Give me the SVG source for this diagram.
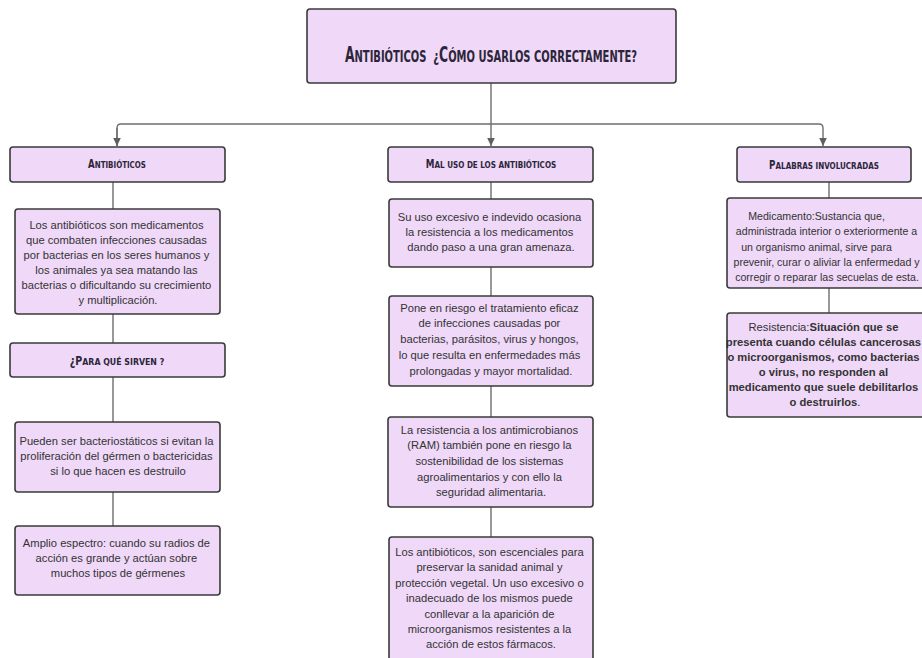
<svg xmlns="http://www.w3.org/2000/svg" width="922" height="658" viewBox="0 0 922 658">
  <style>
    .box { fill: #efd8f8; stroke: #3a3a3a; stroke-width: 1.6; }
    .head { font-family: "DejaVu Sans Condensed", "DejaVu Sans", "Liberation Sans", sans-serif; font-stretch: condensed; font-weight: bold; fill: #2c2638; text-anchor: middle; }
    .body { font-family: "Liberation Sans", Arial, sans-serif; font-size: 11.2px; fill: #333333; text-anchor: middle; }
    .small { font-size: 10.6px; }
    .b { font-weight: bold; }
    .link { fill: none; stroke: #6e6e6e; stroke-width: 1.4; }
  </style>
  <defs>
    <marker id="arrow" viewBox="0 0 8 10" refX="8" refY="5" markerWidth="8" markerHeight="10" markerUnits="userSpaceOnUse" orient="auto">
      <path d="M0,1.2 L8,5 L0,8.8 Z" fill="#5f5f5f"/>
    </marker>
  </defs>

  <rect width="922" height="658" fill="#ffffff"/>

  <!-- connectors -->
  <g id="connectors">
    <path class="link" d="M491,83 V146" marker-end="url(#arrow)"/>
    <path class="link" d="M117,146 V128 Q117,124 121,124 H819 Q823,124 823,128 V146" marker-end="url(#arrow)"/>
    <path class="link" d="M117,128 V146" marker-end="url(#arrow)"/>
    <!-- left column -->
    <path class="link" d="M113,182 V209 M113,314 V343 M113,377 V422 M113,492 V526"/>
    <!-- middle column -->
    <path class="link" d="M491,182 V199 M491,267 V296 M491,386 V417 M491,507 V537"/>
    <!-- right column -->
    <path class="link" d="M829,182 V198 M829,288 V313"/>
  </g>

  <!-- title -->
  <g id="title">
    <rect class="box" x="307" y="9" width="369" height="74" rx="3"/>
    <text class="head" transform="translate(491,62) scale(0.67,1)"><tspan font-size="20.5">A</tspan><tspan font-size="16.5">NTIBIÓTICOS&#160; ¿</tspan><tspan font-size="20.5">C</tspan><tspan font-size="16.5">ÓMO USARLOS CORRECTAMENTE?</tspan></text>
  </g>

  <!-- left column -->
  <g id="antibioticos">
    <rect class="box" x="10" y="147" width="215" height="35" rx="3"/>
    <text class="head" transform="translate(117,168) scale(0.83,1)"><tspan font-size="11.5">A</tspan><tspan font-size="9.5">NTIBIÓTICOS</tspan></text>
  </g>
  <g id="definicion">
    <rect class="box" x="15" y="209" width="205" height="105" rx="3"/>
    <text class="body">
      <tspan x="118" y="229">Los antibióticos son medicamentos</tspan>
      <tspan x="118" y="244">que combaten infecciones causadas</tspan>
      <tspan x="118" y="259">por bacterias en los seres humanos y</tspan>
      <tspan x="118" y="274">los animales ya sea matando las</tspan>
      <tspan x="118" y="289">bacterias o dificultando su crecimiento</tspan>
      <tspan x="118" y="304">y multiplicación.</tspan>
    </text>
  </g>
  <g id="para-que-sirven">
    <rect class="box" x="10" y="343" width="215" height="34" rx="3"/>
    <text class="head" transform="translate(117,365) scale(0.92,1)"><tspan font-size="11.5">¿P</tspan><tspan font-size="9.5">ARA QUÉ SIRVEN ?</tspan></text>
  </g>
  <g id="bacteriostaticos">
    <rect class="box" x="15" y="422" width="205" height="70" rx="3"/>
    <text class="body">
      <tspan x="118" y="445">Pueden ser bacteriostáticos si evitan la</tspan>
      <tspan x="118" y="460">proliferación del gérmen o bactericidas</tspan>
      <tspan x="118" y="475">si lo que hacen es destruilo</tspan>
    </text>
  </g>
  <g id="amplio-espectro">
    <rect class="box" x="15" y="526" width="205" height="69" rx="3"/>
    <text class="body">
      <tspan x="118" y="547">Amplio espectro: cuando su radios de</tspan>
      <tspan x="118" y="562">acción es grande y actúan sobre</tspan>
      <tspan x="118" y="577">muchos tipos de gérmenes</tspan>
    </text>
  </g>

  <!-- middle column -->
  <g id="mal-uso">
    <rect class="box" x="388" y="147" width="205" height="35" rx="3"/>
    <text class="head" transform="translate(491,168) scale(0.846,1)"><tspan font-size="11.5">M</tspan><tspan font-size="9.5">AL USO DE LOS ANTIBIÓTICOS</tspan></text>
  </g>
  <g id="uso-excesivo">
    <rect class="box" x="389" y="199" width="204" height="68" rx="3"/>
    <text class="body">
      <tspan x="491" y="221">Su uso excesivo e indevido ocasiona</tspan>
      <tspan x="491" y="236">la resistencia a los medicamentos</tspan>
      <tspan x="491" y="251">dando paso a una gran amenaza.</tspan>
    </text>
  </g>
  <g id="riesgo-tratamiento">
    <rect class="box" x="389" y="296" width="204" height="90" rx="3"/>
    <text class="body">
      <tspan x="491" y="311.5">Pone en riesgo el tratamiento eficaz</tspan>
      <tspan x="491" y="327">de infecciones causadas por</tspan>
      <tspan x="491" y="343">bacterias, parásitos, virus y hongos,</tspan>
      <tspan x="491" y="359">lo que resulta en enfermedades más</tspan>
      <tspan x="491" y="374.5">prolongadas y mayor mortalidad.</tspan>
    </text>
  </g>
  <g id="ram">
    <rect class="box" x="388" y="417" width="205" height="90" rx="3"/>
    <text class="body">
      <tspan x="491" y="434">La resistencia a los antimicrobianos</tspan>
      <tspan x="491" y="449">(RAM) también pone en riesgo la</tspan>
      <tspan x="491" y="465">sostenibilidad de los sistemas</tspan>
      <tspan x="491" y="481">agroalimentarios y con ello la</tspan>
      <tspan x="491" y="496">seguridad alimentaria.</tspan>
    </text>
  </g>
  <g id="sanidad">
    <rect class="box" x="389" y="537" width="204" height="130" rx="3"/>
    <text class="body">
      <tspan x="491" y="556">Los antibióticos, son escenciales para</tspan>
      <tspan x="491" y="571">preservar la sanidad animal y</tspan>
      <tspan x="491" y="587">protección vegetal. Un uso excesivo o</tspan>
      <tspan x="491" y="602">inadecuado de los mismos puede</tspan>
      <tspan x="491" y="618">conllevar a la aparición de</tspan>
      <tspan x="491" y="633">microorganismos resistentes a la</tspan>
      <tspan x="491" y="648">acción de estos fármacos.</tspan>
    </text>
  </g>

  <!-- right column -->
  <g id="palabras">
    <rect class="box" x="737" y="147" width="174" height="35" rx="3"/>
    <text class="head" transform="translate(824,169) scale(0.843,1)"><tspan font-size="11.5">P</tspan><tspan font-size="9.5">ALABRAS INVOLUCRADAS</tspan></text>
  </g>
  <g id="medicamento">
    <rect class="box" x="727" y="198" width="205" height="90" rx="3"/>
    <text class="body small">
      <tspan x="818" y="220">Medicamento:Sustancia que,</tspan>
      <tspan x="828" y="235">administrada interior o exteriormente a</tspan>
      <tspan x="818" y="251">un organismo animal, sirve para</tspan>
      <tspan x="828" y="266">prevenir, curar o aliviar la enfermedad y</tspan>
      <tspan x="827" y="281">corregir o reparar las secuelas de esta.</tspan>
    </text>
  </g>
  <g id="resistencia">
    <rect class="box" x="727" y="313" width="205" height="104" rx="3"/>
    <text class="body">
      <tspan x="825" y="331">Resistencia:<tspan class="b">Situación que se</tspan></tspan>
      <tspan x="825" y="346" class="b">presenta cuando células cancerosas</tspan>
      <tspan x="825" y="361" class="b">o microorganismos, como bacterias</tspan>
      <tspan x="825" y="376" class="b">o virus, no responden al</tspan>
      <tspan x="825" y="391" class="b">medicamento que suele debilitarlos</tspan>
      <tspan x="825" y="406"><tspan class="b">o destruirlos</tspan>.</tspan>
    </text>
  </g>
</svg>
